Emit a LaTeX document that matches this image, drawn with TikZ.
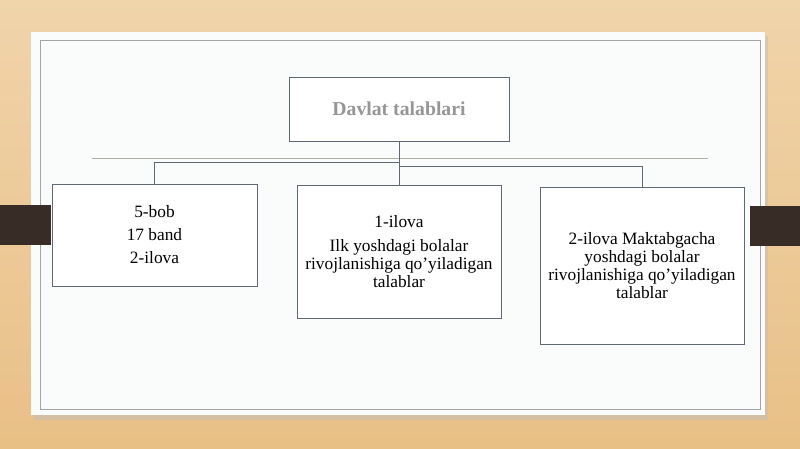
\documentclass[tikz,border=0pt]{standalone}
\usepackage{fontspec}
\setmainfont{Liberation Serif}
\usetikzlibrary{positioning}

\definecolor{woodtop}{RGB}{240,212,170}
\definecolor{woodbot}{RGB}{232,192,134}
\definecolor{barbrown}{RGB}{56,44,38}
\definecolor{panel}{RGB}{250,251,251}
\definecolor{framegray}{RGB}{160,165,168}
\definecolor{boxline}{RGB}{95,105,115}
\definecolor{titlegray}{RGB}{150,150,150}
\definecolor{ruleline}{RGB}{175,175,165}

\tikzset{
  levelbox/.style={draw=boxline, fill=white, line width=0.7pt, align=center,
    font=\fontsize{13}{13.5}\selectfont, inner sep=2pt},
  link/.style={draw=boxline, line width=0.7pt},
}

\begin{document}
\begin{tikzpicture}[x=0.75pt,y=0.75pt,yscale=-1,xscale=1]
\useasboundingbox (0,0) rectangle (800,449);

% background
\shade[top color=woodtop, bottom color=woodbot] (0,0) rectangle (800,449);
% panel with shadow
\fill[black!25, opacity=0.5] (34,36) rectangle (768,420);
\fill[panel] (31,32) rectangle (765,415);
\draw[framegray, line width=0.7pt] (40,40) rectangle (760,409);

% side bars
\fill[barbrown] (0,205) rectangle (51,245);
\fill[barbrown] (750,206) rectangle (800,246);

% title
\node[levelbox, minimum width=165pt, minimum height=48pt,
  font=\fontsize{14.8}{16}\selectfont\bfseries, text=titlegray] (title) at (399,109) {Davlat talablari};

% thin rule
\draw[ruleline, line width=0.6pt] (92,158) -- (708,158);

% boxes
\node[levelbox, minimum width=153.75pt, minimum height=76.5pt,
  font=\fontsize{13}{17.25}\selectfont] (bob) at (154.5,235) {5-bob\\17 band\\2-ilova};
\node[levelbox, minimum width=153pt, minimum height=99.75pt] (ilk) at (399,251.5)
  {1-ilova\\[4pt]Ilk yoshdagi bolalar\\rivojlanishiga qo’yiladigan\\talablar};
\node[levelbox, minimum width=153pt, minimum height=117.75pt] (maktab) at (642,265.5)
  {2-ilova Maktabgacha\\yoshdagi bolalar\\rivojlanishiga qo’yiladigan\\talablar};

% connectors
\coordinate (hubL) at (399,162);
\coordinate (hubR) at (399,166);
\draw[link] (title.south) -- (ilk.north);
\draw[link] (hubL) -| (bob.north);
\draw[link] (hubR) -| (maktab.north);

\end{tikzpicture}
\end{document}
